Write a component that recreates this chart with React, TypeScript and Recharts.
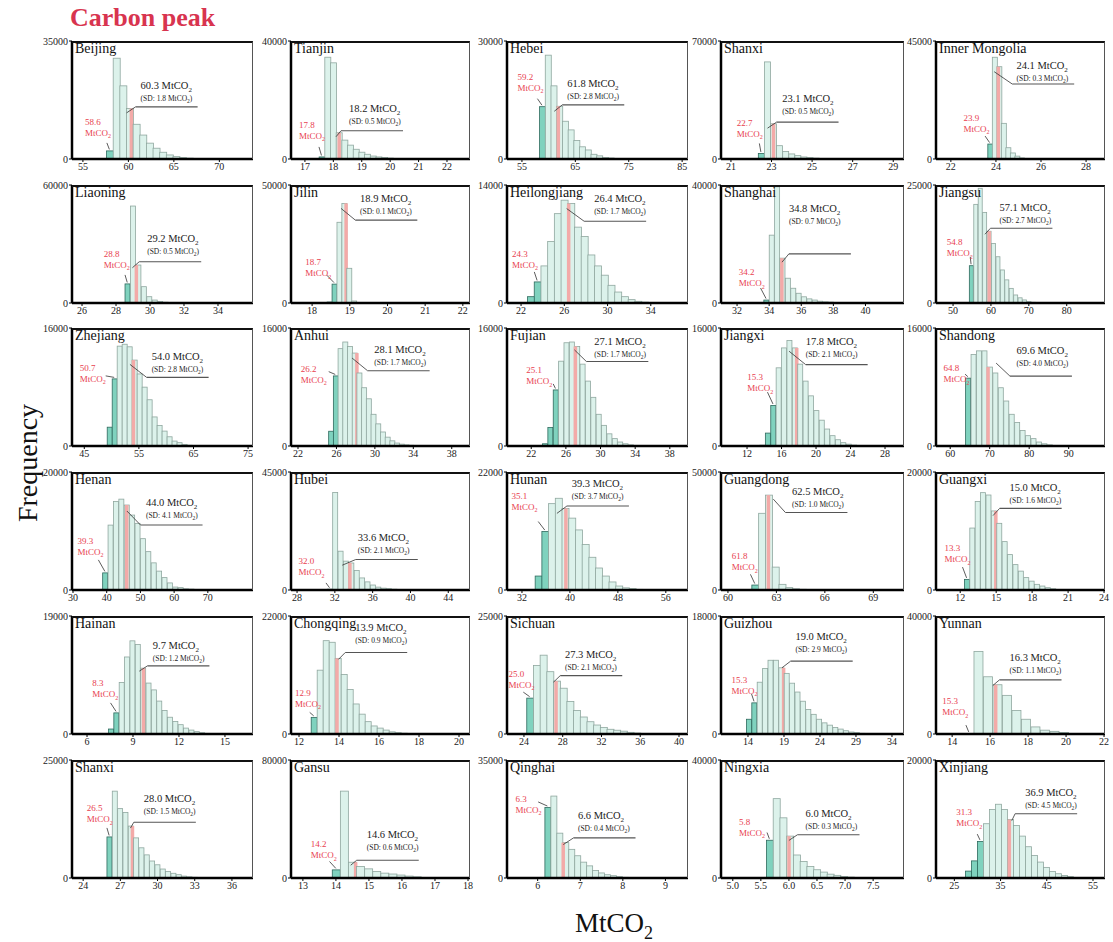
import React from 'react';
import { BarChart, Bar, XAxis, YAxis, ReferenceDot } from 'recharts';

const provinces = ['Beijing', 'Tianjin', 'Hebei', 'Shanxi', 'Inner Mongolia', 'Liaoning', 'Jilin', 'Heilongjiang', 'Shanghai', 'Jiangsu', 'Zhejiang', 'Anhui', 'Fujian', 'Jiangxi', 'Shandong', 'Henan', 'Hubei', 'Hunan', 'Guangdong', 'Guangxi', 'Hainan', 'Chongqing', 'Sichuan', 'Guizhou', 'Yunnan', 'Shanxi', 'Gansu', 'Qinghai', 'Ningxia', 'Xinjiang'];

const yMaxes = [35000, 40000, 30000, 70000, 45000, 60000, 50000, 14000, 40000, 25000, 16000, 16000, 16000, 16000, 16000, 20000, 45000, 22000, 50000, 20000, 19000, 22000, 25000, 18000, 40000, 25000, 80000, 35000, 40000, 20000];

const xRanges = [
  [53.8, 73.7], [16.51, 22.81], [52.2, 86.1], [20.51, 29.53], [21.34, 28.84],
  [25.41, 36.06], [17.44, 22.19], [20.7, 37.44], [31, 42.4], [45.5, 90.1],
  [42.75, 75.9], [21.27, 39.9], [19.2, 40.1], [8.98, 30.2], [56.4, 99.2],
  [29.7, 83.4], [27.36, 46.3], [29.5, 59.7], [59.57, 70.9], [9.98, 24.08],
  [5.02, 16.83], [11.6, 20.55], [22.25, 40.93], [10.25, 35.67], [13.15, 22.05],
  [23.1, 37.7], [12.64, 18.06], [5.28, 9.53], [4.79, 8.05], [21.03, 57.6],
];

const xTicks = [
  [55, 60, 65, 70], [17, 18, 19, 20, 21, 22], [55, 65, 75, 85], [21, 23, 25, 27, 29], [22, 24, 26, 28],
  [26, 28, 30, 32, 34], [18, 19, 20, 21, 22], [22, 26, 30, 34], [32, 34, 36, 38, 40], [50, 60, 70, 80],
  [45, 55, 65, 75], [22, 26, 30, 34, 38], [22, 26, 30, 34, 38], [12, 16, 20, 24, 28], [60, 70, 80, 90],
  [30, 40, 50, 60, 70], [28, 32, 36, 40, 44], [32, 40, 48, 56], [60, 63, 66, 69], [12, 15, 18, 21, 24],
  [6, 9, 12, 15], [12, 14, 16, 18, 20], [24, 28, 32, 36, 40], [14, 19, 24, 29, 34], [14, 16, 18, 20, 22],
  [24, 27, 30, 33, 36], [13, 14, 15, 16, 17, 18], [6, 7, 8, 9], [5.0, 5.5, 6.0, 6.5, 7.0, 7.5], [25, 35, 45, 55],
];

const binStarts = [57.6, 17.5, 58.3, 22.35, 23.64, 28.53, 18.4, 22.6, 33.67, 54.3, 49.2, 25.19, 23.3, 13.5, 63.9, 38.8, 31.2, 34.2, 61.48, 11.9, 7.4, 12.61, 24.29, 13.78, 14.65, 25.92, 13.89, 6.17, 5.6, 27.4];

const binWidths = [0.73, 0.2, 1.07, 0.3, 0.2, 0.32, 0.13, 0.62, 0.335, 1.17, 0.914, 0.49, 0.62, 0.625, 1.38, 1.6, 0.57, 1.12, 0.42, 0.45, 0.35, 0.3, 0.69, 0.75, 0.5, 0.43, 0.245, 0.14, 0.12, 1.3];

const binCounts = [
  [2400, 29900, 21700, 15000, 10300, 7100, 4700, 3200, 2000, 1200, 700, 400, 250, 100],
  [700, 34500, 32600, 8900, 6400, 4700, 3300, 2300, 1600, 1000, 700, 500, 300, 150],
  [13300, 26400, 18600, 13400, 9600, 7400, 4700, 3100, 2300, 1200, 800, 400, 250, 150, 80],
  [3300, 57600, 20900, 7900, 4400, 3000, 2000, 1200, 800, 500, 300, 200, 150, 100, 80, 60, 40, 30, 20, 20],
  [5700, 38800, 35200, 13600, 4300, 2300, 1100, 400, 150],
  [9700, 49300, 19300, 8300, 3200, 1500, 800, 400, 200],
  [400, 8000, 34200, 42200, 14700, 850, 200],
  [750, 2500, 4400, 7300, 10600, 12200, 11800, 9000, 7900, 5700, 4400, 3300, 2100, 1300, 750, 400, 200, 100],
  [1000, 23000, 39400, 15200, 8400, 5000, 3300, 2100, 1400, 1000, 600, 400, 300, 200, 100],
  [7900, 20900, 24300, 19200, 15200, 12600, 9800, 7000, 4900, 3100, 1700, 1100, 650, 280, 150],
  [2550, 9100, 13540, 13800, 13450, 11650, 9770, 7980, 6270, 3940, 2780, 2020, 1250, 670, 450, 220, 100],
  [2000, 9500, 13200, 14100, 13500, 12600, 9900, 7900, 6400, 4300, 3000, 1900, 1200, 700, 400, 250, 150, 100, 60],
  [300, 2500, 7600, 11500, 14000, 14100, 13500, 11100, 8800, 6600, 4300, 2800, 1650, 1000, 540, 300, 150, 80],
  [100, 1750, 5500, 10600, 13300, 14300, 13300, 11100, 8800, 6800, 4800, 3500, 2300, 1400, 850, 450, 250, 120],
  [9200, 12400, 12900, 12900, 10700, 9900, 7900, 6100, 4300, 3200, 2100, 1400, 1000, 540, 300, 150, 80, 50],
  [2900, 11000, 15000, 15400, 14400, 12700, 11300, 8700, 6500, 4600, 3200, 2100, 1200, 500, 400, 200, 150, 100, 80, 50],
  [300, 37200, 14800, 11000, 10300, 7400, 4600, 3100, 1900, 1100, 700, 500, 300, 200, 150, 100, 60, 40],
  [2600, 10900, 16100, 17100, 15200, 13400, 11200, 8500, 6100, 4100, 2600, 1500, 740, 400, 250, 120, 60],
  [2100, 32500, 40200, 9700, 2400, 1000, 500, 300, 150, 100, 80, 60, 50, 40, 30, 20, 20, 10],
  [100, 1800, 10500, 15000, 16500, 16100, 13400, 11300, 8200, 6000, 4300, 3200, 2100, 1500, 960, 670, 390, 200, 100],
  [800, 3400, 8300, 12400, 15000, 14400, 10600, 8200, 7100, 5300, 3800, 2700, 2000, 1500, 950, 630, 380, 200, 100],
  [3100, 11900, 17400, 17100, 14100, 11100, 8300, 5600, 3700, 2300, 1500, 1100, 730, 400, 250, 150],
  [7600, 14500, 16700, 13200, 11200, 9700, 6900, 5000, 3600, 2600, 1900, 1400, 1000, 800, 600, 350, 200, 100],
  [2250, 4750, 7900, 10000, 11250, 11250, 10100, 9250, 7750, 6400, 5000, 3750, 3000, 2250, 1700, 1350, 1000, 750, 500, 300, 200, 100],
  [200, 28000, 19400, 16700, 13100, 8000, 5000, 2400, 1300, 900, 500, 200],
  [8700, 18400, 14700, 13900, 11000, 8500, 6400, 4900, 3600, 2800, 1900, 1400, 1000, 700, 400, 250, 150, 80],
  [5500, 58900, 10700, 7800, 6200, 4400, 3300, 2700, 2000, 1300, 800, 400, 200],
  [20900, 24300, 13300, 10500, 8500, 6600, 4700, 3600, 2200, 1500, 970, 680, 390, 200, 100, 50],
  [12800, 26900, 20400, 14200, 7800, 5600, 3900, 2800, 2000, 1300, 900, 500, 300, 150],
  [1170, 2900, 6200, 9200, 11600, 12500, 11600, 9900, 8900, 7100, 5300, 3800, 2700, 1800, 1100, 720, 430, 220, 100],
];

const darkBins = [1, 1, 1, 1, 1, 1, 2, 2, 1, 1, 2, 2, 3, 3, 1, 1, 1, 2, 1, 2, 2, 1, 1, 2, 1, 1, 1, 1, 1, 3];

const peakValues = [58.6, 17.8, 59.2, 22.7, 23.9, 28.8, 18.7, 24.3, 34.2, 54.8, 50.7, 26.2, 25.1, 15.3, 64.8, 39.3, 32.0, 35.1, 61.8, 13.3, 8.3, 12.9, 25.0, 15.3, 15.3, 26.5, 14.2, 6.3, 5.8, 31.3];
const meanValues = [60.3, 18.2, 61.8, 23.1, 24.1, 29.2, 18.9, 26.4, 34.8, 57.1, 54.0, 28.1, 27.1, 17.8, 69.6, 44.0, 33.6, 39.3, 62.5, 15.0, 9.7, 13.9, 27.3, 19.0, 16.3, 28.0, 14.6, 6.6, 6.0, 36.9];
// where the pink mean strip sits on the x axis, as drawn in the figure
const meanMarks = [60.3, 18.2, 61.8, 23.1, 24.1, 29.2, 18.9, 26.4, 34.8, 59.6, 54.0, 28.1, 27.1, 17.8, 69.6, 46.0, 33.6, 39.3, 62.5, 15.0, 9.7, 13.9, 27.3, 19.0, 16.3, 28.0, 14.6, 6.6, 6.0, 36.9];
const sdValues = [1.8, 0.5, 2.8, 0.5, 0.3, 0.5, 0.1, 1.7, 0.7, 2.7, 2.8, 1.7, 1.7, 2.1, 4.0, 4.1, 2.1, 3.7, 1.0, 1.6, 1.2, 0.9, 2.1, 2.9, 1.1, 1.5, 0.6, 0.4, 0.3, 4.5];

// label placement in pixels: mean note [lineDx, lineDy, leaderDx, leaderDy, textDx, textDy]
const meanNotePos = [
  [4.5, -1.6, -4.5, 4.4, 5, -17.5], [2, -2, -3, 4, 8, -19], [4, -1.4, -4, 5, 5, -18], [3, -1.6, -6, 4.4, 5.6, -20], [14, 17.3, -4, 5, 4.3, -15],
  [2.8, -3.3, -4, 2.7, 8, -20], [9.3, 16.7, -5, 5, 4.7, -18.3], [15.5, 17.7, -2, 5, 10, -19], [6.9, -4.3, 0, 4, 0, -42], [1, -3, -4.5, 3, 9, -17],
  [13.2, 17.3, -3.5, 4.3, 5, -17.3], [11, 17.7, -4.5, 5, 6.7, -17.7], [10.9, 15, -1, 3.4, 8, -16], [8.6, 16.7, -8, 3.3, 0, -19.4], [21.8, 9, 8, -4, 6.7, -21.6],
  [13.6, 20, 0, 6, 5.4, -19], [5.8, -3.5, -7.7, 2.2, 2, -18.3], [1.2, -2.5, -8.8, 4.9, 4.8, -19.3], [17.1, 17.4, 5, 4, 6.7, -17.4], [3.5, -2.6, -3.2, 4.7, 9.8, -17],
  [3.7, -2.3, -4.4, 3, 5.4, -17], [8.2, -5.8, 1.5, 1, 10, -22], [4.3, -5.5, -2.4, 1, 4.7, -17.4], [6.7, -6.7, -2, 0, 4.7, -21], [3.7, -4.9, -3, 0.8, 10, -19],
  [1.1, -3.9, -2.3, 2, 10, -20], [1, -2, -5, 3, 10, -22], [10.3, -4.7, 0, 2, 4.4, -19.3], [8.6, -1.4, 0, 4.3, 8, -17.7], [5.8, -5.9, 2.4, 1.1, 10, -17.3],
];
// peak note [textDx, textDy, leaderDx, leaderDy]
const peakNotePos = [
  [-25, -26, -3, -8], [-23, -29, -3, -10], [-25, -27, -5, -8], [-24.6, -27.7, -2, -10], [-26.5, -23.3, -5, -8],
  [-24, -27.3, -2.7, -9], [-29.4, -19, -7.8, -9], [-25.5, -25, -3.3, -10], [-27.7, -25, -6, -12], [-24.8, -20.7, -1.3, -9],
  [-35, -8.3, -9, -3], [-35, -4, -7, -4.3], [-29.6, -16.7, -2.7, -6], [-26.2, -25, -6, -13.3], [-24.8, -6.7, -3.3, -4],
  [-27.8, -29, -7, -13], [-31.6, -25, -4, -6.3], [-33.7, -33, -7, -10], [-23.6, -25.7, -4.8, -10.7], [-22.7, -28.3, -4.6, -12.3],
  [-24.3, -26.8, -6, -10], [-19.3, -21.6, -4.5, -5], [-21.6, -21.6, -6.8, -6], [-23, -20, -3, -9], [-27, -29, -3.3, -8.3],
  [-22.8, -25.6, -2.7, -9], [-25.6, -22.4, -6.8, -8.4], [-32.3, -5.6, -9.7, -5.6], [-30.8, -15.7, -2.8, -7.7], [-24.2, -26.3, -3.2, -7.3],
];

const colLeft = [72, 291, 507, 721, 936];
const colWidth = [181, 179, 181, 183, 169];
const rowTop = [41, 185, 328, 472, 616, 760];
const PLOT_H = 118;
const ML = 40;
const MT = 6;
const MB = 24;
const MR = 6;

const FONT = '"Liberation Serif", "Times New Roman", serif';
const RED = '#e8414f';

const BinShape = (props: any) => {
  const { x, y, width, height, payload } = props;
  if (!height || height <= 0) return null;
  const fill = payload.dark ? '#7fd2be' : '#dcf2eb';
  const stroke = payload.dark ? '#2f6a5e' : '#8fa79f';
  return (
    <g>
      <rect x={x} y={y} width={width} height={height} fill={fill} stroke={stroke} strokeWidth={0.8} />
      {payload.meanFrac != null && (
        <rect x={x + width * payload.meanFrac - 1.75} y={y} width={3.5} height={height} fill="#f3aaa8" />
      )}
    </g>
  );
};

const MeanNote = ({ cx, cy, i }: any) => {
  if (cx == null || cy == null || isNaN(cx)) return null;
  const [hx, hy, sx, sy, tx, ty] = meanNotePos[i];
  const lx = cx + hx;
  const ly = cy + hy;
  return (
    <g fontFamily={FONT}>
      <line x1={cx + sx} y1={cy + sy} x2={lx} y2={ly} stroke="#333" strokeWidth={0.8} />
      <line x1={lx} y1={ly} x2={lx + 62} y2={ly} stroke="#555" strokeWidth={1.1} />
      <text x={lx + tx} y={ly + ty} fontSize={10.5} fill="#222">
        {meanValues[i].toFixed(1)} MtCO<tspan dy={3} fontSize={7}>2</tspan>
      </text>
      <text x={lx + tx} y={ly + ty + 12} fontSize={7.5} fill="#222">
        (SD: {sdValues[i].toFixed(1)} MtCO<tspan dy={2} fontSize={5.5}>2</tspan><tspan dy={-2}>)</tspan>
      </text>
    </g>
  );
};

const PeakNote = ({ cx, cy, i }: any) => {
  if (cx == null || cy == null || isNaN(cx)) return null;
  const [dx, dy, lx, ly] = peakNotePos[i];
  return (
    <g fontFamily={FONT}>
      <line x1={cx + lx} y1={cy + ly} x2={cx - 0.5} y2={cy - 1.5} stroke="#333" strokeWidth={0.8} />
      <text x={cx + dx} y={cy + dy} fontSize={9} fill={RED}>{peakValues[i].toFixed(1)}</text>
      <text x={cx + dx} y={cy + dy + 11} fontSize={9} fill={RED}>
        MtCO<tspan dy={2.5} fontSize={6}>2</tspan>
      </text>
    </g>
  );
};

function Panel({ i }: { i: number }) {
  const col = i % 5;
  const row = Math.floor(i / 5);
  const L = colLeft[col];
  const T = rowTop[row];
  const W = colWidth[col];
  const w = binWidths[i];
  const counts = binCounts[i];
  const mark = meanMarks[i];
  const meanBin = Math.floor((mark - binStarts[i]) / w);

  const data = counts.map((c, j) => ({
    x: binStarts[i] + (j + 0.5) * w,
    count: c,
    dark: j < darkBins[i],
    meanFrac: j === meanBin ? (mark - (binStarts[i] + j * w)) / w : null,
  }));
  const meanTop = counts[meanBin] ?? 0;
  const peakX = binStarts[i] + (darkBins[i] - 0.5) * w;
  const peakTop = counts[darkBins[i] - 1];
  const decimalTicks = xTicks[i].some((t) => !Number.isInteger(t));

  return (
    <>
      <div style={{ position: 'absolute', left: L - ML, top: T - MT }}>
        <BarChart
          width={W + ML + MR}
          height={PLOT_H + MT + MB}
          data={data}
          margin={{ top: MT, right: MR, bottom: 0, left: 0 }}
          barCategoryGap={0}
          barGap={0}
        >
          <XAxis
            dataKey="x"
            type="number"
            domain={xRanges[i]}
            allowDataOverflow
            ticks={xTicks[i]}
            interval={0}
            height={MB}
            tickSize={3}
            tickMargin={1}
            axisLine={{ stroke: '#000', strokeWidth: 2.5 }}
            tickLine={{ stroke: '#000' }}
            tick={{ fontSize: 10, fill: '#222', fontFamily: FONT }}
            tickFormatter={(v: number) => (decimalTicks ? v.toFixed(1) : String(v))}
          />
          <YAxis
            type="number"
            domain={[0, yMaxes[i]]}
            allowDataOverflow
            ticks={[0, yMaxes[i]]}
            interval={0}
            width={ML}
            tickSize={3}
            tickMargin={1}
            axisLine={{ stroke: '#000', strokeWidth: 2.5 }}
            tickLine={{ stroke: '#000' }}
            tick={{ fontSize: 10, fill: '#222', fontFamily: FONT }}
          />
          <Bar dataKey="count" isAnimationActive={false} shape={(p: any) => <BinShape {...p} />} />
          <ReferenceDot
            x={mark}
            y={meanTop}
            ifOverflow="visible"
            shape={(p: any) => <MeanNote {...p} i={i} />}
          />
          <ReferenceDot
            x={peakX}
            y={peakTop}
            ifOverflow="visible"
            shape={(p: any) => <PeakNote {...p} i={i} />}
          />
        </BarChart>
      </div>
      <div
        style={{
          position: 'absolute',
          left: L,
          top: T,
          width: W,
          height: PLOT_H,
          boxSizing: 'border-box',
          borderTop: '2px solid #111',
          borderRight: '1px solid #555',
          pointerEvents: 'none',
        }}
      />
      <div
        style={{
          position: 'absolute',
          left: L + 3,
          top: T,
          fontSize: 14,
          lineHeight: '16px',
          fontFamily: FONT,
          color: '#111',
          pointerEvents: 'none',
        }}
      >
        {provinces[i]}
      </div>
    </>
  );
}

export default function App() {
  return (
    <div
      style={{
        position: 'absolute',
        left: 0,
        top: 0,
        width: 1113,
        height: 942,
        background: '#fff',
        fontFamily: FONT,
        overflow: 'hidden',
      }}
    >
      {provinces.map((_, i) => (
        <Panel key={i} i={i} />
      ))}
      <svg width={1113} height={942} style={{ position: 'absolute', left: 0, top: 0, pointerEvents: 'none' }}>
        <text x={70} y={26} fontSize={26} fontWeight="bold" fill="#d8344f" fontFamily={FONT}>
          Carbon peak
        </text>
        <text transform="translate(37, 463) rotate(-90)" textAnchor="middle" fontSize={28} fill="#111" fontFamily={FONT}>
          Frequency
        </text>
        <text x={575} y={932} fontSize={27} fill="#111" fontFamily={FONT}>
          MtCO<tspan dy={7} fontSize={18}>2</tspan>
        </text>
      </svg>
    </div>
  );
}
